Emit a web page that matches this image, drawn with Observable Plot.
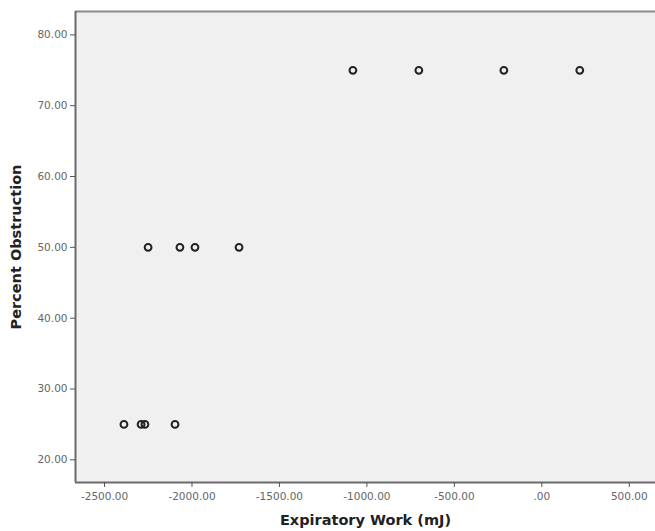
<!DOCTYPE html>
<html>
<head>
<meta charset="utf-8">
<script src="https://cdn.jsdelivr.net/npm/d3@7"></script>
<script src="https://cdn.jsdelivr.net/npm/@observablehq/plot@0.6"></script>
<style>
  html, body { margin: 0; padding: 0; background: #fff; }
  #chart { width: 655px; height: 531px; }
</style>
</head>
<body>
<div id="chart"></div>
<script>
const work = [
  -2389, -2291, -2269, -2097,
  -2251, -2069, -1983, -1731,
  -1080, -703, -217, 217
];
const obstruction = [
  25, 25, 25, 25,
  50, 50, 50, 50,
  75, 75, 75, 75
];
const xTicks = [-2500, -2000, -1500, -1000, -500, 0, 500];
const yTicks = [20, 30, 40, 50, 60, 70, 80];

const data = work.map((w, i) => ({work: w, obstruction: obstruction[i]}));
const fmt = d => d.toFixed(2).replace(/^(-?)0\./, "$1.");

const xDomain = [-2666, 650];
const yDomain = [16.8, 83.3];

const plot = Plot.plot({
  width: 655,
  height: 531,
  marginLeft: 75,
  marginRight: 0,
  marginTop: 11,
  marginBottom: 49,
  style: {fontFamily: "DejaVu Sans", background: "#fff"},
  x: {domain: xDomain, ticks: xTicks, tickFormat: fmt, label: null},
  y: {domain: yDomain, ticks: yTicks, tickFormat: fmt, label: null},
  marks: [
    Plot.frame({fill: "#f0f0f0", stroke: null}),
    Plot.ruleY([yDomain[1]], {stroke: "#8a8a8a", strokeWidth: 2}),
    Plot.ruleY([yDomain[0]], {stroke: "#6a6a6a", strokeWidth: 2}),
    Plot.ruleX([xDomain[0]], {stroke: "#6a6a6a", strokeWidth: 2}),
    Plot.axisX({ticks: xTicks, tickFormat: fmt, tickSize: 5, tickPadding: 5, stroke: "#555", fill: "#666", fontSize: 10.5, label: "Expiratory Work (mJ)", labelAnchor: "center", labelArrow: "none", labelOffset: 42}),
    Plot.axisY({ticks: yTicks, tickFormat: fmt, tickSize: 5, tickPadding: 3, stroke: "#555", fill: "#666", fontSize: 10.5, label: "Percent Obstruction", labelAnchor: "center", labelArrow: "none", labelOffset: 65}),
    Plot.dot(data, {x: "work", y: "obstruction", r: 3.4, stroke: "#222", strokeWidth: 2, fill: "none"})
  ]
});

// style axis labels bold and dark
plot.querySelectorAll("g[aria-label='x-axis label'] text, g[aria-label='y-axis label'] text").forEach(t => {
  t.setAttribute("font-weight", "bold");
  t.setAttribute("font-size", "14.5");
  t.setAttribute("fill", "#222");
});
document.getElementById("chart").appendChild(plot);
</script>
</body>
</html>
